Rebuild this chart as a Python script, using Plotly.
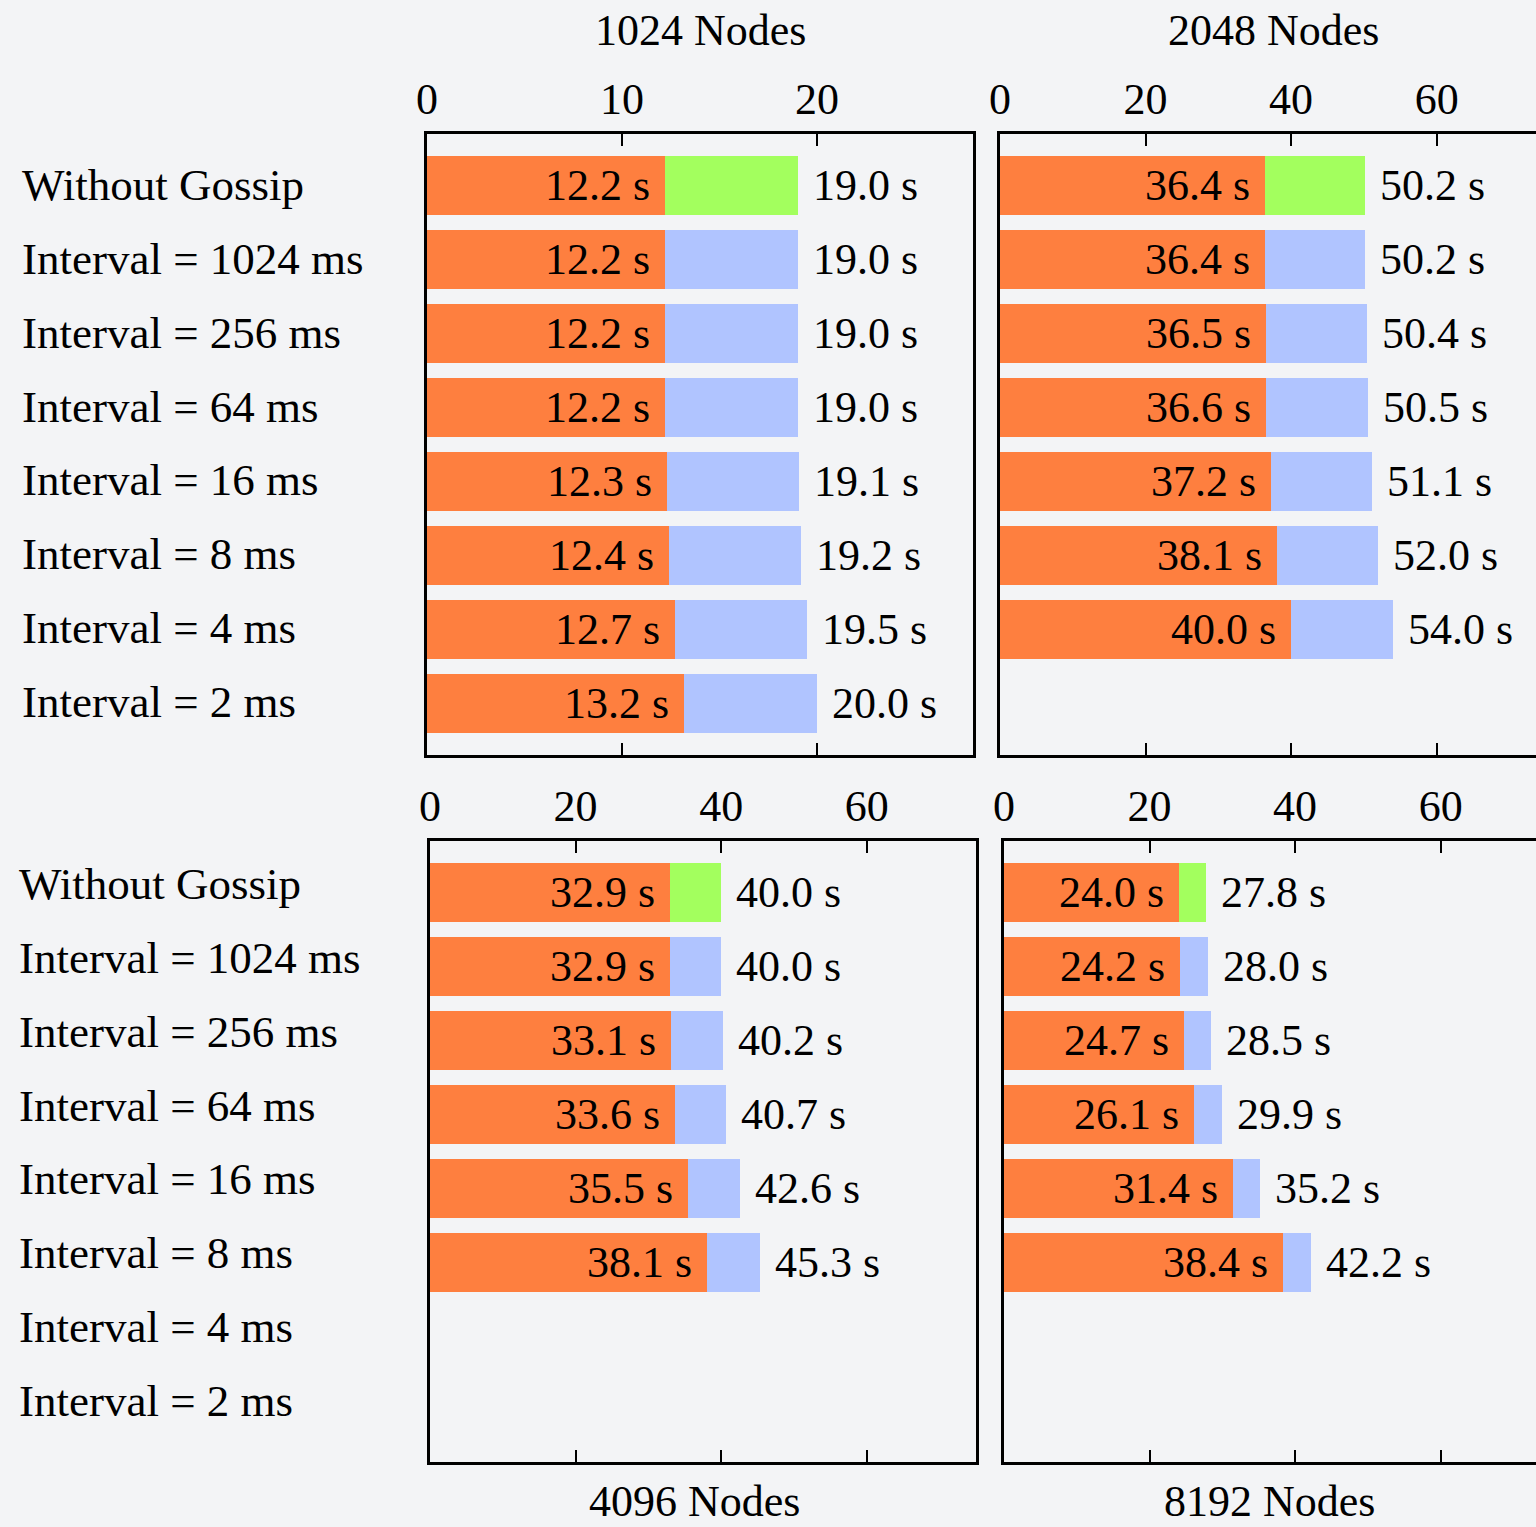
import plotly.graph_objects as go

W, H = 1536, 1527

categories = ["Without Gossip", "Interval = 1024 ms", "Interval = 256 ms", "Interval = 64 ms",
              "Interval = 16 ms", "Interval = 8 ms", "Interval = 4 ms", "Interval = 2 ms"]
panel_titles = ["1024 Nodes", "2048 Nodes", "4096 Nodes", "8192 Nodes"]

base_1024 = [12.2, 12.2, 12.2, 12.2, 12.3, 12.4, 12.7, 13.2]
total_1024 = [19.0, 19.0, 19.0, 19.0, 19.1, 19.2, 19.5, 20.0]
base_2048 = [36.4, 36.4, 36.5, 36.6, 37.2, 38.1, 40.0, None]
total_2048 = [50.2, 50.2, 50.4, 50.5, 51.1, 52.0, 54.0, None]
base_4096 = [32.9, 32.9, 33.1, 33.6, 35.5, 38.1, None, None]
total_4096 = [40.0, 40.0, 40.2, 40.7, 42.6, 45.3, None, None]
base_8192 = [24.0, 24.2, 24.7, 26.1, 31.4, 38.4, None, None]
total_8192 = [27.8, 28.0, 28.5, 29.9, 35.2, 42.2, None, None]

ticks_small = [0, 10, 20]
ticks_large = [0, 20, 40, 60]

ORANGE = "#FE7F3F"
GREEN = "#A3FF5E"
BLUE = "#B0C4FF"
BG = "#F3F4F6"
FONT = "Liberation Serif"
FS = 44


def px(x):
    return x / W


def py(y):
    return 1 - y / H


panels = [
    dict(base=base_1024, total=total_1024, l=427, r=973, t=134, b=755, xmax=28.0, ticks=ticks_small,
         title=panel_titles[0], tx=700, ty=31, full=True, top=True),
    dict(base=base_2048, total=total_2048, l=1000, r=1536, t=134, b=755, xmax=536 / 7.278, ticks=ticks_large,
         title=panel_titles[1], tx=1273, ty=31, full=False, top=True),
    dict(base=base_4096, total=total_4096, l=430, r=976, t=841, b=1462, xmax=75.0, ticks=ticks_large,
         title=panel_titles[2], tx=694, ty=None, full=True, top=False),
    dict(base=base_8192, total=total_8192, l=1004, r=1536, t=841, b=1462, xmax=532 / 7.278, ticks=ticks_large,
         title=panel_titles[3], tx=1269, ty=None, full=False, top=False),
]

fig = go.Figure()
annotations = []

for k, p in enumerate(panels):
    suffix = "" if k == 0 else str(k + 1)
    xa, ya = "x" + suffix, "y" + suffix
    rest = [None if (t is None or b is None) else round(t - b, 2) for b, t in zip(p["base"], p["total"])]
    rest_colors = [GREEN if i == 0 else BLUE for i in range(len(categories))]
    fig.add_trace(go.Bar(y=categories, x=p["base"], orientation="h", marker=dict(color=ORANGE, line=dict(width=0)),
                         width=0.8, xaxis=xa, yaxis=ya, hoverinfo="skip", showlegend=False))
    fig.add_trace(go.Bar(y=categories, x=rest, orientation="h", marker=dict(color=rest_colors, line=dict(width=0)),
                         width=0.8, xaxis=xa, yaxis=ya, hoverinfo="skip", showlegend=False))

    layout_x = dict(domain=[px(p["l"]), px(p["r"])], range=[0, p["xmax"]], side="top", anchor=ya,
                    showline=True, linecolor="black", linewidth=2.5, mirror="ticks",
                    ticks="inside", ticklen=12, tickwidth=2, tickcolor="black",
                    tickvals=p["ticks"], showgrid=False, zeroline=False, automargin=False,
                    tickfont=dict(family=FONT, size=FS, color="black"), fixedrange=True)
    layout_y = dict(domain=[py(p["b"]), py(p["t"])], range=[7.7, -0.7], anchor=xa, type="category",
                    categoryorder="array", categoryarray=categories, automargin=False,
                    showline=True, linecolor="black", linewidth=2.5, mirror=bool(p["full"]),
                    showticklabels=False, ticks="", showgrid=False, zeroline=False, fixedrange=True)
    fig.update_layout(**{"xaxis" + suffix: layout_x, "yaxis" + suffix: layout_y})

    for i, (b, t) in enumerate(zip(p["base"], p["total"])):
        if b is None:
            continue
        annotations.append(dict(x=b, y=categories[i], xref=xa, yref=ya, text=f"{b:.1f} s", showarrow=False,
                                xanchor="right", yanchor="middle", xshift=-13,
                                font=dict(family=FONT, size=FS, color="black")))
        annotations.append(dict(x=t, y=categories[i], xref=xa, yref=ya, text=f"{t:.1f} s", showarrow=False,
                                xanchor="left", yanchor="middle", xshift=13,
                                font=dict(family=FONT, size=FS, color="black")))

    if p["top"]:
        annotations.append(dict(x=px(p["tx"]), y=py(p["ty"]), xref="paper", yref="paper", text=p["title"],
                                showarrow=False, xanchor="center", yanchor="middle",
                                font=dict(family=FONT, size=FS, color="black")))
    else:
        annotations.append(dict(x=px(p["tx"]), y=0, xref="paper", yref="paper", text=p["title"],
                                showarrow=False, xanchor="center", yanchor="bottom", borderpad=0,
                                font=dict(family=FONT, size=FS, color="black")))

for k, (lx, shift) in enumerate([(20, 1), (17, 9)]):
    ya = "y" if k == 0 else "y3"
    for c in categories:
        annotations.append(dict(x=px(lx), y=c, xref="paper", yref=ya, text=c, showarrow=False,
                                xanchor="left", yanchor="middle", yshift=shift,
                                font=dict(family=FONT, size=45, color="black")))

fig.update_layout(width=W, height=H, margin=dict(l=0, r=0, t=0, b=0, pad=0, autoexpand=False), autosize=False,
                  paper_bgcolor=BG, plot_bgcolor=BG, barmode="stack", bargap=0.2,
                  showlegend=False, annotations=annotations)

fig.write_html("out.html", include_plotlyjs=True, full_html=True,
               config={"displayModeBar": False},
               post_script="document.body.style.margin='0';document.body.style.overflow='hidden';")
